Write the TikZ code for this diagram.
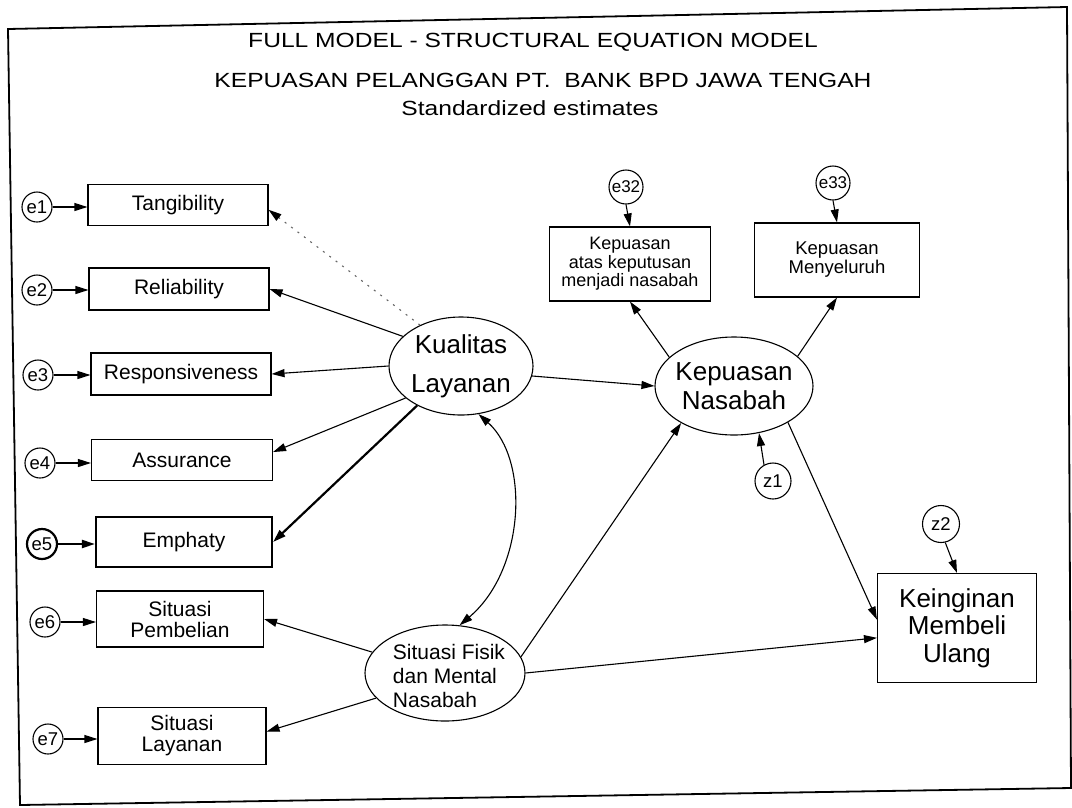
\documentclass[tikz,border=0pt]{standalone}
\usepackage{fontspec}
\setmainfont{Liberation Sans}
\newfontfamily\widefont[FakeStretch=1.2]{Liberation Sans}
\usetikzlibrary{arrows.meta, shapes.geometric}
\newcommand\fsz[2]{\fontsize{#1}{#2}\selectfont}

\tikzset{
  obs/.style={draw, line width=1.1pt, rectangle, align=center, inner sep=0pt},
  lat/.style={draw, line width=1.1pt, ellipse, inner sep=0pt},
  err/.style={draw, line width=1.1pt, circle, inner sep=0pt, minimum size=30pt,
              font=\fsz{18.5}{18.5}},
  arr/.style={line width=1.1pt, -{Triangle[length=13pt,width=8pt]}},
  cov/.style={line width=1.1pt, {Triangle[length=13pt,width=8pt]}-{Triangle[length=13pt,width=8pt]}},
  faint/.style={line width=1.1pt, draw=black!60, dash pattern=on 2pt off 6pt,
                -{Triangle[length=13pt,width=8pt,color=black]}},
  heavy/.style={line width=2.2pt},
  ttl/.style={anchor=base, inner sep=0pt, font=\widefont\fsz{20.5}{20.5}},
}

\begin{document}
\begin{tikzpicture}[x=1pt, y=1pt]
  \useasboundingbox (0,0) rectangle (1072,-807);

  % outer frame
  \draw[line width=1.8pt] (8,-29) -- (1067,-7) -- (1071,-788) -- (20,-805) -- cycle;

  % titles
  \node[ttl] (t1) at (533,-47)  {FULL MODEL - STRUCTURAL EQUATION MODEL};
  \node[ttl] (t2) at (543,-87)  {KEPUASAN PELANGGAN PT.\ \ BANK BPD JAWA TENGAH};
  \node[ttl] (t3) at (530,-115) {Standardized estimates};

  % indicators of the exogenous constructs
  \node[obs, minimum width=180pt, minimum height=41pt, font=\fsz{21}{22}] (tang) at (178,-205) {Tangibility};
  \node[obs, minimum width=180pt, minimum height=42pt, font=\fsz{21}{22}] (rel)  at (179,-289) {Reliability};
  \node[obs, minimum width=180pt, minimum height=42pt, font=\fsz{21}{22}] (resp) at (181,-374) {Responsiveness};
  \node[obs, minimum width=181pt, minimum height=41pt, font=\fsz{21}{22}] (ass)  at (182,-460) {Assurance};
  \node[obs, heavy, minimum width=176pt, minimum height=50pt, font=\fsz{21}{22}] (emp) at (184,-542) {Emphaty};
  \node[obs, minimum width=167pt, minimum height=56pt, font=\fsz{21}{21}] (pemb) at (180,-619) {Situasi\\Pembelian};
  \node[obs, minimum width=168pt, minimum height=57pt, font=\fsz{21}{21}] (lay)  at (182,-736) {Situasi\\Layanan};

  % measurement errors
  \node[err] (e1) at (37,-207) {e1};
  \node[err] (e2) at (37,-290) {e2};
  \node[err] (e3) at (38,-375) {e3};
  \node[err] (e4) at (40,-463) {e4};
  \node[err, heavy] (e5) at (42,-544) {e5};
  \node[err] (e6) at (45,-622) {e6};
  \node[err] (e7) at (48,-739) {e7};

  % latent constructs
  \node[lat, minimum width=144pt, minimum height=98pt,
        label={[font=\fsz{26}{39}, align=center]center:Kualitas\\Layanan}] (kl) at (461,-366) {};
  \node[lat, minimum width=158pt, minimum height=98pt,
        label={[font=\fsz{26}{29}, align=center]center:Kepuasan\\Nasabah}] (kn) at (734,-386) {};
  \node[lat, minimum width=160pt, minimum height=96pt,
        label={[font=\fsz{21}{24}, align=left, xshift=4pt, yshift=-3pt]center:Situasi Fisik\\dan Mental\\Nasabah}] (sf) at (445,-673) {};

  % indicators of the endogenous constructs
  \node[obs, minimum width=161pt, minimum height=74pt, font=\fsz{18}{18.5}] (kp) at (630,-264) {Kepuasan\\atas keputusan\\menjadi nasabah};
  \node[obs, minimum width=165pt, minimum height=74pt, font=\fsz{18.5}{19}] (km) at (837,-260) {Kepuasan\\Menyeluruh};
  \node[obs, minimum width=159pt, minimum height=109pt, font=\fsz{26}{27.5}] (kg) at (957,-628) {Keinginan\\Membeli\\Ulang};

  % errors and disturbances
  \node[err, minimum size=34pt, font=\fsz{17}{17}] (e32) at (626,-187) {e32};
  \node[err, minimum size=34pt, font=\fsz{17}{17}] (e33) at (833,-183) {e33};
  \node[err, minimum size=36pt] (z1)  at (773,-481) {z1};
  \node[err, minimum size=37pt] (z2)  at (941,-524) {z2};

  % error arrows
  \foreach \e/\b in {e1/tang, e2/rel, e3/resp, e4/ass, e6/pemb, e7/lay}
    \draw[arr] (\e.east) -- (\b.west |- \e.east);
  \draw[arr, heavy] (e5.east) -- (emp.west |- e5.east);
  \draw[arr] (e32.south) -- (kp.north);
  \draw[arr] (e33.south) -- (km.north);
  \draw[arr] (z1.119) -- (kn.298);
  \draw[arr] (z2.283) -- (kg.north);

  % loadings
  \draw[faint] (kl.135) -- (tang.-3);
  \draw[arr] (kl.153) -- (rel.east);
  \draw[arr] (kl.west) -- (resp.east);
  \draw[arr] (kl.210) -- (ass.5);
  \draw[arr, line width=2.2pt] (kl.222) -- (emp.east);
  \draw[arr] (sf.164) -- (pemb.east);
  \draw[arr] (sf.200) -- (lay.3);
  \draw[arr] (kn.156) -- (kp.south);
  \draw[arr] (kn.25) -- (km.south);

  % structural paths
  \draw[arr] (kl.352) -- (kn.west);
  \draw[arr] (sf.12) -- (kn.215);
  \draw[arr] (sf.east) -- (kg.187);
  \draw[arr] (kn.326) -- (kg.174);
  \draw[cov] (kl.290) .. controls (530,-460) and (525,-570) .. (sf.73);
\end{tikzpicture}
\end{document}
